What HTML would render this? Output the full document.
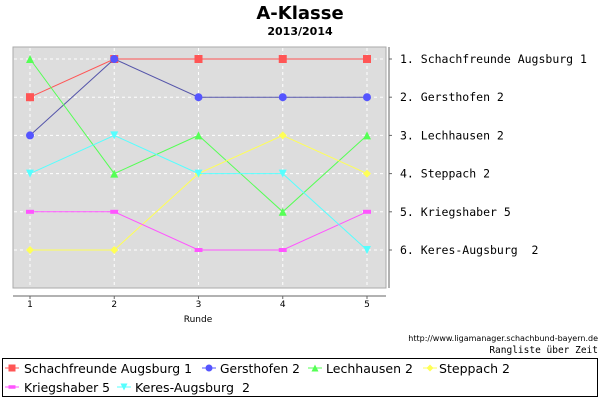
<!DOCTYPE html>
<html><head><meta charset="utf-8"><style>
body{margin:0;background:#fff;width:600px;height:400px;overflow:hidden}
svg{display:block}
text{white-space:pre}
</style></head><body>
<svg id="c" width="600" height="400" xmlns="http://www.w3.org/2000/svg">
<text x="300" y="19" text-anchor="middle" font-family="DejaVu Sans, sans-serif" font-weight="bold" font-size="18">A-Klasse</text>
<text x="300" y="35" text-anchor="middle" font-family="DejaVu Sans, sans-serif" font-weight="bold" font-size="11">2013/2014</text>
<rect x="13" y="47" width="373" height="241" fill="#dddddd" stroke="#aaa"/>
<g id="grid"></g>
<line x1="389" y1="47" x2="389" y2="288" stroke="#666"/>
<line x1="13" y1="296" x2="386" y2="296" stroke="#666"/>
<g id="axes"></g>
<g id="series"></g>
<text x="198" y="322" text-anchor="middle" font-family="DejaVu Sans, sans-serif" font-size="9">Runde</text>
<text x="598" y="341" text-anchor="end" font-family="DejaVu Sans, sans-serif" font-size="8">http://www.ligamanager.schachbund-bayern.de</text>
<text x="598" y="353" text-anchor="end" font-family="DejaVu Sans Mono, monospace" font-size="9.5">Rangliste über Zeit</text>
<rect x="2.5" y="358.5" width="595" height="38" fill="none" stroke="#000"/>
<g id="legend"></g>
</svg>
<script>
const rounds=[1,2,3,4,5];
const teams=["Schachfreunde Augsburg 1","Gersthofen 2","Lechhausen 2","Steppach 2","Kriegshaber 5","Keres-Augsburg  2"];
const rankLabels=["1. Schachfreunde Augsburg 1","2. Gersthofen 2","3. Lechhausen 2","4. Steppach 2","5. Kriegshaber 5","6. Keres-Augsburg  2"];
const sSchach=[2,1,1,1,1];
const sGerst=[3,1,2,2,2];
const sLech=[1,4,3,5,3];
const sStep=[6,6,4,3,4];
const sKrieg=[5,5,6,6,5];
const sKeres=[4,3,4,4,6];
const series=[sSchach,sGerst,sLech,sStep,sKrieg,sKeres];
const colors=["#ff5555","#5555ff","#55ff55","#ffff55","#ff55ff","#55ffff"];
const lineColors=["#ff5555","#5555aa","#55ff55","#ffff55","#ff55ff","#55ffff"];
const shapes=["square","circle","up","diamond","rect","down"];
const NS="http://www.w3.org/2000/svg";
const X=r=>30+(r-1)*84.25;
const Y=k=>59+(k-1)*38.2;
function mk(tag,attrs,parent){const e=document.createElementNS(NS,tag);for(const k in attrs)e.setAttribute(k,attrs[k]);parent.appendChild(e);return e;}
const grid=document.getElementById('grid'),axes=document.getElementById('axes'),sg=document.getElementById('series'),lg=document.getElementById('legend');
rounds.forEach(r=>{
 const g=mk('line',{x1:X(r),x2:X(r),y1:48,y2:287,stroke:'#fff','stroke-dasharray':'3,3'},grid);
 
 
 const t=mk('line',{x1:X(r),x2:X(r),y1:296,y2:299,stroke:'#666'},axes);
 
 
 const l=mk('text',{x:X(r),y:307,'text-anchor':'middle','font-family':'DejaVu Sans, sans-serif','font-size':'9'},axes);
 l.textContent=r;
 
 
});
rankLabels.forEach((lab,i)=>{
 const g=mk('line',{x1:14,x2:385,y1:Y(i+1),y2:Y(i+1),stroke:'#fff','stroke-dasharray':'3,3'},grid);
 
 
 const t=mk('line',{x1:389,x2:392,y1:Y(i+1),y2:Y(i+1),stroke:'#666'},axes);
 
 
 const l=mk('text',{x:400,y:Y(i+1)+4,'font-family':'DejaVu Sans Mono, monospace','font-size':'11.5'},axes);
 l.textContent=lab;
 
 
});
function marker(shape,x,y,c,p,s){
 s=s||4;let e;
 if(shape==='square')e=mk('rect',{x:x-s,y:y-s,width:2*s,height:2*s,fill:c},p);
 else if(shape==='circle')e=mk('circle',{cx:x,cy:y,r:s,fill:c},p);
 else if(shape==='up')e=mk('polygon',{points:`${x},${y-s} ${x+s},${y+s} ${x-s},${y+s}`,fill:c},p);
 else if(shape==='down')e=mk('polygon',{points:`${x-s},${y-s} ${x+s},${y-s} ${x},${y+s}`,fill:c},p);
 else if(shape==='diamond')e=mk('polygon',{points:`${x},${y-s} ${x+s},${y} ${x},${y+s} ${x-s},${y}`,fill:c},p);
 else e=mk('rect',{x:x-s,y:y-s/2,width:2*s,height:s,fill:c},p);
 return e;
}
series.forEach((d,si)=>{
 const pl=mk('polyline',{points:d.map((v,i)=>X(rounds[i])+','+Y(v)).join(' '),fill:'none',stroke:lineColors[si],'stroke-width':1},sg);
 
 
 d.forEach((v,i)=>{
  const m=marker(shapes[si],X(rounds[i]),Y(v),colors[si],sg);
  
  
 });
});
// legend layout: marker x, text start, text end, row y
const lpos=[[12,24,192,368],[209,220,300,368],[315,326,413,368],[430,439,510,368],[12,24,110,387],[124,135,250,387]];
teams.forEach((t,i)=>{
 const [mx,tx0,tx1,y]=lpos[i];
 const g=mk('g',{},lg);
 
 
 mk('line',{x1:mx-7,x2:mx+7,y1:y,y2:y,stroke:colors[i]},g);
 marker(shapes[i],mx,y,colors[i],g,3.5);
 const tx=mk('text',{x:tx0,y:y+5,'font-family':'DejaVu Sans, sans-serif','font-size':'12',textLength:tx1-tx0,lengthAdjust:'spacingAndGlyphs'},g);
 tx.textContent=t;
});
</script>
</body></html>
